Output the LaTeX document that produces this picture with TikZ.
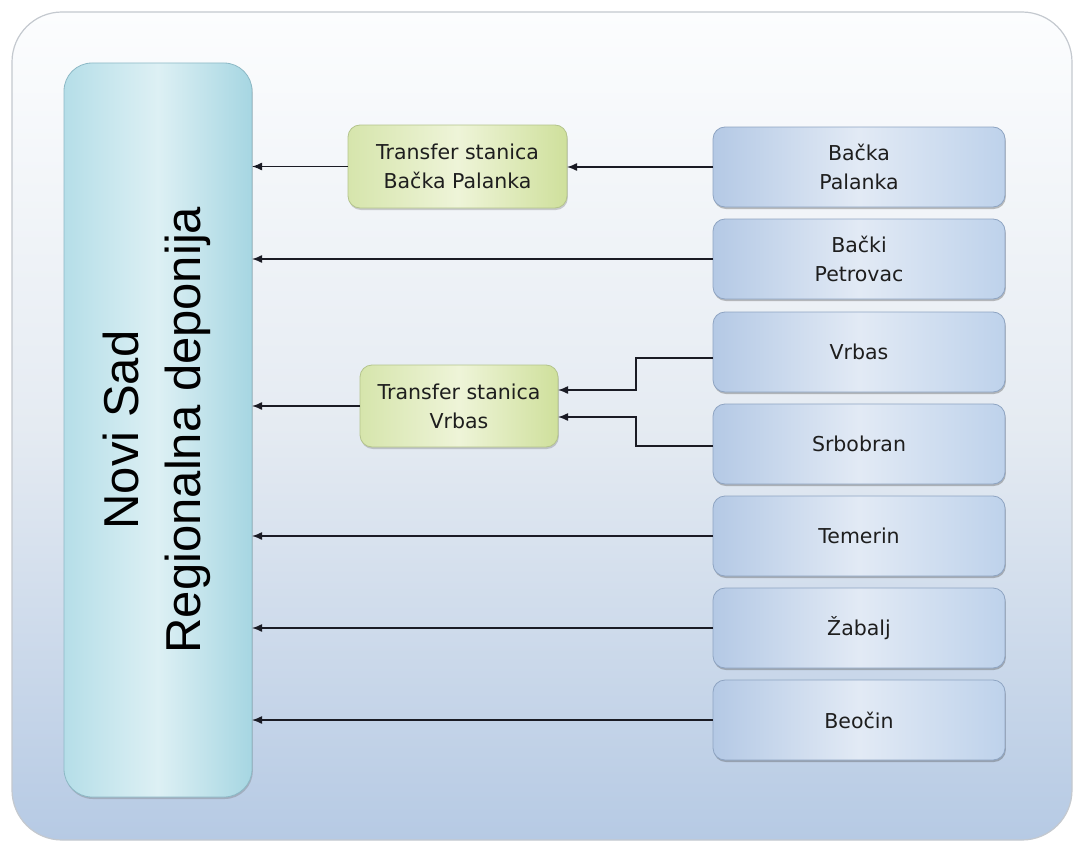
\documentclass[tikz,border=0pt]{standalone}
\usepackage{fontspec}
\usetikzlibrary{arrows.meta,shadows}
\newfontfamily\boxfont{DejaVu Sans}
\newfontfamily\bigfont{Liberation Sans}
\definecolor{outerline}{HTML}{C4C9CF}
\definecolor{bgtop}{HTML}{FCFDFE}
\definecolor{bgmid}{HTML}{E5EBF2}
\definecolor{bgbot}{HTML}{B6CAE4}
\definecolor{mainL}{HTML}{B5DEE8}
\definecolor{mainM}{HTML}{DDF0F4}
\definecolor{mainR}{HTML}{A6D6E2}
\definecolor{mainline}{HTML}{8DB9C6}
\definecolor{srcL}{HTML}{B4C9E5}
\definecolor{srcM}{HTML}{E2EAF5}
\definecolor{srcR}{HTML}{BED2EB}
\definecolor{srcline}{HTML}{8EA4C2}
\definecolor{tsL}{HTML}{D6E5AC}
\definecolor{tsM}{HTML}{EEF4D8}
\definecolor{tsR}{HTML}{CFE09C}
\definecolor{tsline}{HTML}{B4C48C}
\definecolor{arrowcol}{HTML}{1A1B24}
\definecolor{txt}{HTML}{1E1E1E}
\tikzset{
  srcbox/.style={draw=srcline, line width=0.8pt, rounded corners=12pt,
    left color=srcL, right color=srcR, middle color=srcM,
    minimum width=292pt, minimum height=80pt, inner sep=0pt, outer sep=0pt,
    align=center, text=txt, font=\boxfont\fontsize{20.5}{29}\selectfont,
    drop shadow={shadow xshift=0.8pt, shadow yshift=-2pt, opacity=0.35, fill=black!70}},
  tsbox/.style={draw=tsline, line width=0.8pt, rounded corners=12pt,
    left color=tsL, right color=tsR, middle color=tsM,
    inner sep=0pt, outer sep=0pt,
    align=center, text=txt, font=\boxfont\fontsize{20.5}{29}\selectfont,
    drop shadow={shadow xshift=0.8pt, shadow yshift=-2pt, opacity=0.3, fill=black!60}},
  mainbox/.style={draw=mainline, line width=0.8pt, rounded corners=28pt,
    left color=mainL, right color=mainR, middle color=mainM,
    minimum width=188pt, minimum height=734pt, inner sep=0pt, outer sep=0pt,
    drop shadow={shadow xshift=0.8pt, shadow yshift=-2pt, opacity=0.3, fill=black!60}},
  arr/.style={-{Latex[length=10pt,width=8pt]}, line width=1.4pt, draw=arrowcol}
}
\begin{document}
\begin{tikzpicture}[x=1pt,y=-1pt]
\useasboundingbox (0,0) rectangle (1074,843);
\fill[white] (0,0) rectangle (1074,843);
% outer frame
\draw[outerline, line width=1.2pt, rounded corners=50pt, top color=bgtop, bottom color=bgbot, middle color=bgmid]
  (12,12) rectangle (1072,840);
% main box
\node[mainbox] (main) at (158,430) {};
\node[rotate=90, align=center, text=black, font=\bigfont\fontsize{49}{62}\selectfont] (maintxt) at (157,430) {Novi Sad\\Regionalna deponija};
% source boxes
\node[srcbox] (bp)  at (859,167) {Bačka\\Palanka};
\node[srcbox] (pet) at (859,259) {Bački\\Petrovac};
\node[srcbox] (vr)  at (859,352) {Vrbas};
\node[srcbox] (srb) at (859,444) {Srbobran};
\node[srcbox] (tem) at (859,536) {Temerin};
\node[srcbox] (zab) at (859,628) {Žabalj};
\node[srcbox] (beo) at (859,720) {Beočin};
% transfer stations
\node[tsbox, minimum width=219pt, minimum height=83pt] (tsA) at (457.5,166.5) {Transfer stanica\\Bačka Palanka};
\node[tsbox, minimum width=198pt, minimum height=82pt] (tsB) at (459,406) {Transfer stanica\\Vrbas};
% connectors
\draw[arr] (bp.west) -- (bp.west -| tsA.east);
\draw[arr] (tsA.west) -- (tsA.west -| main.east);
\draw[arr] (pet.west) -- (pet.west -| main.east);
\draw[arr] ([yshift=-6pt]vr.west) -- ++(-77,0) |- ([yshift=16pt]tsB.east);
\draw[arr] ([yshift=-2pt]srb.west) -- ++(-77,0) |- ([yshift=-11pt]tsB.east);
\draw[arr] (tsB.west) -- (tsB.west -| main.east);
\draw[arr] (tem.west) -- (tem.west -| main.east);
\draw[arr] (zab.west) -- (zab.west -| main.east);
\draw[arr] (beo.west) -- (beo.west -| main.east);
\end{tikzpicture}
\end{document}
